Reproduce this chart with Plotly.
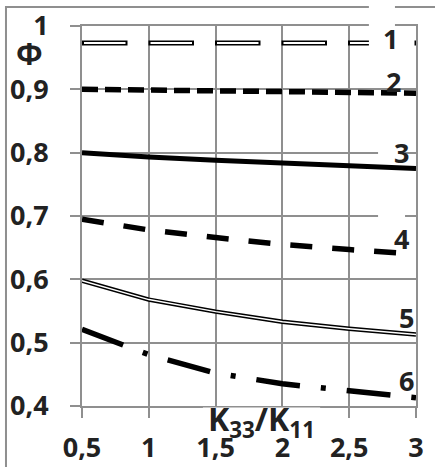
import plotly.graph_objects as go

# ---- data ----
k_ratio = [0.5, 1.0, 1.5, 2.0, 2.5, 3.0]
x_tick_vals = [0.5, 1.0, 1.5, 2.0, 2.5, 3.0]
x_tick_text = ["0,5", "1", "1,5", "2", "2,5", "3"]
y_tick_vals = [0.4, 0.5, 0.6, 0.7, 0.8, 0.9, 1.0]
y_tick_text = ["0,4", "0,5", "0,6", "0,7", "0,8", "0,9", "1"]

phi_1 = [0.973, 0.973, 0.973, 0.973, 0.973, 0.973]
phi_2 = [0.900, 0.899, 0.898, 0.897, 0.895, 0.894]
phi_3 = [0.800, 0.793, 0.788, 0.784, 0.779, 0.775]
phi_4 = [0.695, 0.678, 0.666, 0.655, 0.647, 0.640]
phi_5 = [0.598, 0.568, 0.549, 0.533, 0.522, 0.513]
phi_6 = [0.521, 0.481, 0.452, 0.435, 0.424, 0.413]
curve_labels = ["1", "2", "3", "4", "5", "6"]

GRID = "#8f8f8f"
TXT = "#222222"
FONT = "Open Sans"

fig = go.Figure()

def line(y, color, width, dash="solid"):
    fig.add_trace(go.Scatter(x=k_ratio, y=y, mode="lines", hoverinfo="skip",
                             line=dict(color=color, width=width, dash=dash)))

# curve 1: hollow long dashes
line(phi_1, "black", 5, "45.5px,21px")
line(phi_1, "white", 2, "0px,2px,41.5px,23px")
# curve 2: short thick dashes
line(phi_2, "black", 5.5, "16px,7px")
# curve 3: solid thick
line(phi_3, "black", 5)
# curve 4: medium dashes
line(phi_4, "black", 5.5, "22px,20px")
# curve 5: hollow thin solid
line(phi_5, "black", 4.5)
line(phi_5, "white", 1.5)
# curve 6: dash-dot
line(phi_6, "black", 5.5, "44px,21px,5px,21px")

axis_common = dict(
    showgrid=True, gridcolor=GRID, gridwidth=2,
    showline=True, linecolor=GRID, linewidth=2, mirror=True,
    ticks="outside", ticklen=10, tickwidth=2, tickcolor=GRID,
    zeroline=False, fixedrange=True, automargin=False,
    tickfont=dict(family=FONT, size=27, color=TXT, weight=700),
)

fig.update_xaxes(range=[0.5, 3.0], tickvals=x_tick_vals, ticktext=x_tick_text,
                 ticklabelstandoff=7, **axis_common)
fig.update_yaxes(range=[0.4, 1.0], tickvals=y_tick_vals, ticktext=y_tick_text,
                 ticklabelstandoff=16, **axis_common)

shapes = [
    # outer frame
    dict(type="rect", xref="paper", yref="paper", x0=-0.2276, x1=1.08, y0=-0.2, y1=1.05,
         line=dict(color=GRID, width=2), fillcolor="rgba(0,0,0,0)", layer="below"),
    # white box behind label 1
    dict(type="rect", xref="paper", yref="paper", x0=0.859, x1=0.937, y0=0.932, y1=1.07,
         line=dict(width=0), fillcolor="white", layer="above"),
    # white boxes behind labels 3 and 4 (hide grid)
    dict(type="rect", xref="x", yref="y", x0=2.716, x1=2.903, y0=0.788, y1=0.8167,
         line=dict(width=0), fillcolor="white", layer="between"),
    dict(type="rect", xref="x", yref="y", x0=2.716, x1=2.918, y0=0.684, y1=0.7172,
         line=dict(width=0), fillcolor="white", layer="between"),
    # white box behind the x-axis title
    dict(type="rect", xref="paper", yref="paper", x0=0.362, x1=0.713, y0=-0.084, y1=-0.004,
         line=dict(width=0), fillcolor="white", layer="above"),
]

lab_pos = [(0.925, 0.968), (0.934, 0.853), (0.958, 0.666),
           (0.958, 0.4395), (0.973, 0.234), (0.973, 0.068)]
annotations = []
for t, (px, py) in zip(curve_labels, lab_pos):
    annotations.append(dict(text=t, xref="paper", yref="paper", x=px, y=py,
                            xanchor="center", yanchor="middle", showarrow=False,
                            font=dict(family=FONT, size=27, color=TXT, weight=700)))
annotations.append(dict(text="Φ", xref="paper", yref="paper", x=-0.156, y=0.928,
                        xanchor="center", yanchor="middle", showarrow=False,
                        font=dict(family=FONT, size=31, color=TXT, weight=700)))
annotations.append(dict(text="K<sub>33</sub>/K<sub>11</sub>", xref="paper", yref="paper",
                        x=0.536, y=0.028, xanchor="center", yanchor="top", showarrow=False,
                        font=dict(family=FONT, size=32, color=TXT, weight=700)))

fig.update_layout(
    width=435, height=467,
    margin=dict(l=82, r=19, t=26, b=61),
    paper_bgcolor="white", plot_bgcolor="white",
    showlegend=False,
    shapes=shapes, annotations=annotations,
)

fig.write_html("out.html", config={"displayModeBar": False})
